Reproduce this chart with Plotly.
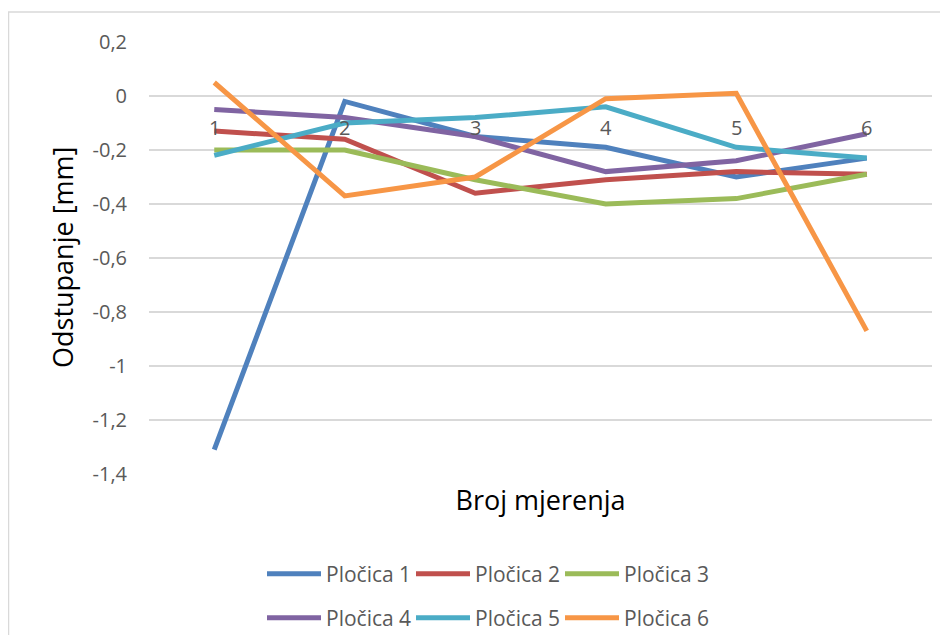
import plotly.graph_objects as go

categories = ["1", "2", "3", "4", "5", "6"]
series_names = ["Pločica 1", "Pločica 2", "Pločica 3", "Pločica 4", "Pločica 5", "Pločica 6"]
plocica_1 = [-1.31, -0.02, -0.15, -0.19, -0.30, -0.23]
plocica_2 = [-0.13, -0.16, -0.36, -0.31, -0.28, -0.29]
plocica_3 = [-0.20, -0.20, -0.31, -0.40, -0.38, -0.29]
plocica_4 = [-0.05, -0.08, -0.15, -0.28, -0.24, -0.14]
plocica_5 = [-0.22, -0.10, -0.08, -0.04, -0.19, -0.23]
plocica_6 = [0.05, -0.37, -0.30, -0.01, 0.01, -0.87]
y_tick_values = [0.2, 0, -0.2, -0.4, -0.6, -0.8, -1, -1.2, -1.4]
y_tick_labels = ["0,2", "0", "-0,2", "-0,4", "-0,6", "-0,8", "-1", "-1,2", "-1,4"]

colors = ["#4F81BD", "#C0504D", "#9BBB59", "#8064A2", "#4BACC6", "#F79646"]
all_series = [plocica_1, plocica_2, plocica_3, plocica_4, plocica_5, plocica_6]

FONT = "Open Sans"
fig = go.Figure()
for i, (name, vals) in enumerate(zip(series_names, all_series)):
    fig.add_trace(go.Scatter(
        x=categories, y=vals, name=name, mode="lines",
        line=dict(color=colors[i], width=5),
        legend="legend" if i < 3 else "legend2",
    ))

for i, c in enumerate(categories):
    fig.add_annotation(x=i, y=0, text=c, showarrow=False, yanchor="middle",
                       yshift=-31, font=dict(family=FONT, size=20, color="#595959"))

# page body has an 8px margin on every side; keep the page within the window
OFF = 8
W, H = 948 - 2 * OFF, 643 - 2 * OFF
L, T = 149 - OFF, 42 - OFF
R = (W + OFF) - 932
B = (H + OFF) - 474
pw, ph = W - L - R, H - T - B

fig.add_shape(type="rect", xref="paper", yref="paper",
              x0=(8.5 - 149) / pw, x1=1.2, y0=-0.6, y1=1 + (42 - 12) / ph,
              line=dict(color="#D9D9D9", width=1.5), fillcolor="rgba(0,0,0,0)", layer="below")

fig.add_annotation(xref="paper", yref="paper", x=(62 - 149) / pw, y=0.5,
                   text="Odstupanje [mm]", textangle=-90, showarrow=False,
                   xanchor="center", yanchor="middle",
                   font=dict(family=FONT, size=27, color="black"))

legend_common = dict(orientation="h", xanchor="left", yanchor="middle",
                     xref="container", yref="container",
                     font=dict(family=FONT, size=21, color="#595959"),
                     itemwidth=54, entrywidth=80, entrywidthmode="pixels",
                     bgcolor="rgba(0,0,0,0)", traceorder="normal")

fig.update_layout(
    width=W, height=H,
    margin=dict(l=L, r=R, t=T, b=B),
    paper_bgcolor="white", plot_bgcolor="white",
    font=dict(family=FONT),
    xaxis=dict(type="category", range=[-0.5, 5.5], showticklabels=False, showgrid=False,
               zeroline=False, showline=False,
               title=dict(text="Broj mjerenja", font=dict(family=FONT, size=27, color="black"), standoff=17)),
    yaxis=dict(range=[-1.4, 0.2], tickvals=y_tick_values, ticktext=y_tick_labels,
               showgrid=True, gridcolor="#D9D9D9", gridwidth=1.5, zeroline=False,
               ticks="", ticklabelstandoff=21,
               tickfont=dict(family=FONT, size=20, color="#595959")),
    legend=dict(x=(262 - OFF) / W, y=1 - (574 - OFF) / H, **legend_common),
    legend2=dict(x=(262 - OFF) / W, y=1 - (618 - OFF) / H, **legend_common),
    showlegend=True,
)

fig.write_html("out.html")
